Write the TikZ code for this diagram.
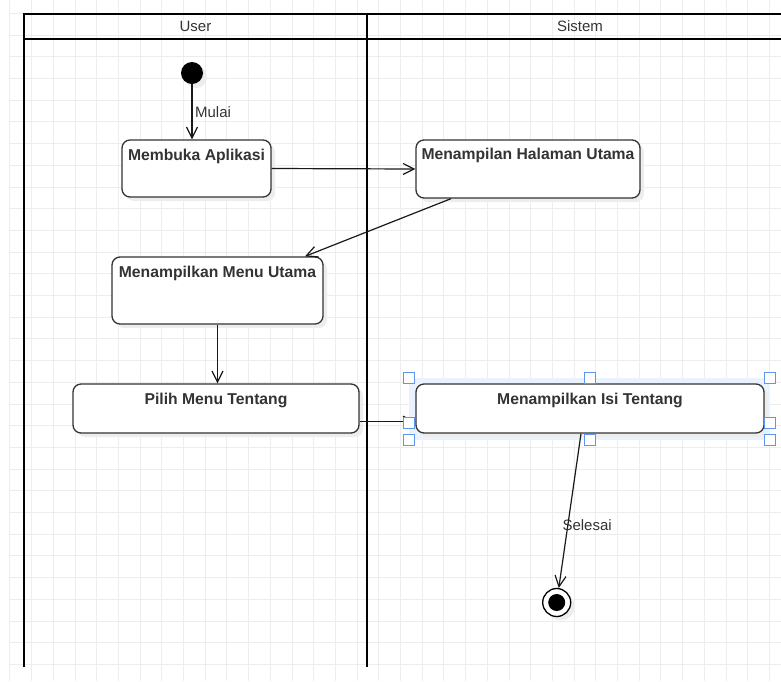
\documentclass[tikz,border=0pt]{standalone}
\usepackage{fontspec}
\setmainfont{Liberation Sans}
\usetikzlibrary{arrows.meta, shadows}

\definecolor{gridgray}{HTML}{EDEDED}
\definecolor{textgray}{HTML}{333333}
\definecolor{selblue}{HTML}{5B97F0}
\definecolor{selfill}{HTML}{EAF2FD}

\begin{document}
\begin{tikzpicture}[
      x=1pt, y=-1pt,
      lane/.style={line width=2pt, black},
      lanetitle/.style={font=\fontsize{15}{18}\selectfont, text=textgray},
      softshadow/.style={drop shadow={shadow xshift=4pt, shadow yshift=-4pt, fill=black!7, opacity=1}},
      activity/.style={rectangle, draw=textgray, fill=white, line width=1.3pt, rounded corners=8pt, softshadow},
      acttext/.style={anchor=base, inner sep=0pt, font=\bfseries\fontsize{15.7}{18}\selectfont, text=textgray},
      arrow/.style={-{Straight Barb[length=11pt, width=11pt]}, line width=1.2pt, black!90},
      edgelabel/.style={anchor=west, inner sep=0pt, font=\fontsize{15}{18}\selectfont, text=textgray},
      handle/.style={rectangle, draw=selblue, fill=white, line width=1pt, minimum size=11pt, inner sep=0pt}
    ]
      \useasboundingbox (0,0) rectangle (781,681);

      % Grid
      \foreach \i in {0,...,35}
        \draw[gridgray, line width=0.8pt] (9.8+21.7*\i,0) -- (9.8+21.7*\i,681);
      \foreach \j in {0,...,30}
        \draw[gridgray, line width=0.8pt] (9.8,13.3+21.7*\j) -- (781,13.3+21.7*\j);

      % Swimlanes
      \draw[lane] (24,667) -- (24,13.5) -- (793,13.5);
      \draw[lane] (24,39) -- (793,39);
      \draw[lane] (367,13.5) -- (367,667);
      \node[lanetitle] (user) at (195.5,26.5) {User};
      \node[lanetitle] (sistem) at (580,26.5) {Sistem};

      % Selection frame
      \fill[selfill] (409,377.5) rectangle (770,440);

      % Nodes
      \node[circle, fill=black, minimum size=22pt, inner sep=0pt, softshadow] (start) at (192,73) {};
      \node[activity, minimum width=149pt, minimum height=57pt] (buka) at (196.5,168.5) {};
      \node[acttext] (buka-t) at ([yshift=-21pt]buka.north) {Membuka Aplikasi};
      \node[activity, minimum width=224pt, minimum height=58pt] (halaman) at (528,169) {};
      \node[acttext] (halaman-t) at ([yshift=-20pt]halaman.north) {Menampilan Halaman Utama};
      \node[activity, minimum width=211pt, minimum height=67pt] (menu) at (217.5,290.5) {};
      \node[acttext] (menu-t) at ([yshift=-21pt]menu.north) {Menampilkan Menu Utama};
      \node[activity, minimum width=286pt, minimum height=49pt] (pilih) at (216,408.5) {};
      \node[acttext] (pilih-t) at ([yshift=-21.5pt]pilih.north) {Pilih Menu Tentang};
      \node[activity, minimum width=348pt, minimum height=49pt] (isi) at (590,408.5) {};
      \node[acttext] (isi-t) at ([yshift=-21.5pt]isi.north) {Menampilkan Isi Tentang};
      \node[circle, draw=black, fill=white, line width=1.3pt, minimum size=28pt, inner sep=0pt, softshadow] (stop) at (556.7,602.5) {};
      \node[circle, fill=black, minimum size=17pt, inner sep=0pt] (stop-dot) at (stop) {};

      % Arrows
      \draw[arrow] (start) -- node[edgelabel, xshift=2.5pt] (mulai) {Mulai} (start |- buka.north);
      \draw[arrow] (buka.east) -- (halaman.west);
      \draw[arrow] ([xshift=-77pt]halaman.south) -- ([xshift=87.5pt]menu.north);
      \draw[arrow] (menu.south) -- (menu.south |- pilih.north);
      \draw[arrow] ([yshift=-13.2pt]pilih.east) -- ([yshift=-13.2pt]isi.west);
      \draw[arrow] ([xshift=-9pt]isi.south) -- node[edgelabel, pos=0.59, xshift=-6pt] (selesai) {Selesai} (stop);

      % Selection handles
      \foreach \hx/\hy [count=\k] in {409/377.5, 589.5/377.5, 770/377.5, 409/422.5, 770/422.5, 409/440, 589.5/440, 770/440}
        \node[handle] (h\k) at (\hx,\hy) {};

    \end{tikzpicture}
\end{document}
